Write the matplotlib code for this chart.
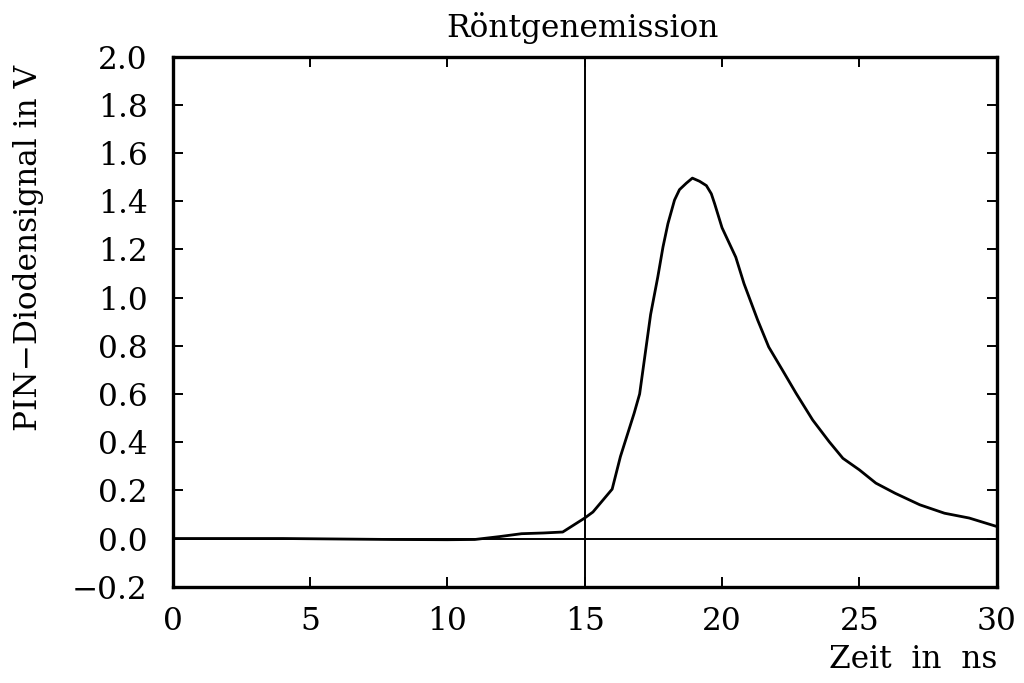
import matplotlib
matplotlib.use("Agg")
import matplotlib.pyplot as plt

# Data
time_ns = [0, 2, 4, 6, 8, 10, 11, 11.9, 12.7, 13.5, 14.2, 15.0, 15.3, 16.0, 16.3,
           16.8, 17.0, 17.4, 17.66, 17.85, 18.03, 18.27, 18.45, 18.7, 18.92,
           19.18, 19.43, 19.61, 19.73, 20.0, 20.5, 20.8, 21.3, 21.7, 22.2, 22.7,
           23.3, 23.9, 24.4, 25.0, 25.6, 26.3, 27.2, 28.1, 29.0, 30.0]
signal_v = [0, 0, 0, -0.002, -0.004, -0.005, -0.004, 0.008, 0.02, 0.023, 0.027,
            0.085, 0.11, 0.205, 0.34, 0.52, 0.60, 0.93, 1.085, 1.21, 1.307,
            1.405, 1.448, 1.475, 1.496, 1.483, 1.465, 1.431, 1.39, 1.29, 1.168,
            1.058, 0.906, 0.795, 0.699, 0.602, 0.492, 0.402, 0.333, 0.285, 0.23,
            0.188, 0.14, 0.105, 0.085, 0.05]
x_ticks = [0, 5, 10, 15, 20, 25, 30]
y_ticks = [-0.2, 0.0, 0.2, 0.4, 0.6, 0.8, 1.0, 1.2, 1.4, 1.6, 1.8, 2.0]
y_tick_labels = ["\u22120.2", "0.0", "0.2", "0.4", "0.6", "0.8", "1.0", "1.2",
                 "1.4", "1.6", "1.8", "2.0"]
marker_time = 15

plt.rcParams['font.family'] = ['DejaVu Serif']
FS = 22.5

W, H = 1024, 683
fig = plt.figure(figsize=(W / 100, H / 100), dpi=100)
ax = fig.add_axes([172.7 / W, 1 - 586.7 / H, (996.7 - 172.7) / W, (586.7 - 56.7) / H])

ax.plot(time_ns, signal_v, color='black', lw=2.0, solid_joinstyle='round')
ax.axhline(0, color='black', lw=1.4)
ax.axvline(marker_time, color='black', lw=1.4)

ax.set_xlim(0, 30)
ax.set_ylim(-0.2, 2.0)
ax.set_xticks(x_ticks)
ax.set_yticks(y_ticks)
ax.set_yticklabels(y_tick_labels)
ax.tick_params(axis='both', direction='in', length=7.2, width=1.4,
               top=True, right=True, labelsize=FS)
ax.tick_params(axis='x', pad=14)
ax.tick_params(axis='y', pad=18)
for s in ax.spines.values():
    s.set_linewidth(2.4)

fig.text(582 / W, 1 - 37 / H, "Röntgenemission", ha='center', va='baseline', fontsize=FS)
fig.text(997 / W, 1 - 668 / H, "Zeit  in  ns", ha='right', va='baseline', fontsize=FS)
fig.text(29 / W, 1 - 65 / H, "PIN\u2212Diodensignal in V", rotation=90,
         ha='center', va='top', fontsize=FS)

fig.savefig("out.png", dpi=100)
